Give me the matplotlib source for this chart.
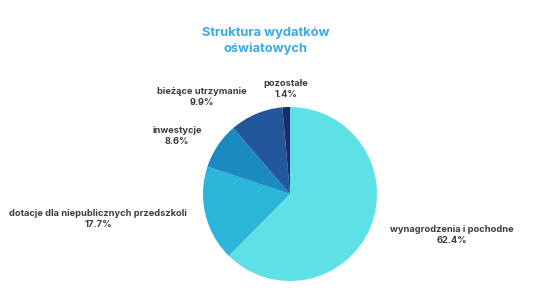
import numpy as np
import matplotlib
matplotlib.use('Agg')
import matplotlib.pyplot as plt

# Dane wykresu
categories = ['wynagrodzenia i pochodne', 'dotacje dla niepublicznych przedszkoli',
              'inwestycje', 'bieżące utrzymanie', 'pozostałe']
shares = [62.4, 17.7, 8.6, 9.9, 1.4]
colors = ['#5de0e6', '#2bb5d8', '#1b8ac0', '#23579b', '#1f2a6b']
# pozycje etykiet (px, od lewej/góry)
label_pos = [(452, 235), (98, 219), (177, 136), (202, 97), (286, 89)]

W, H = 533, 301
fig = plt.figure(figsize=(W / 100, H / 100), dpi=100)
fig.patch.set_facecolor('white')
plt.rcParams['font.family'] = ['Inter', 'DejaVu Sans']

cx, cy, r = 290, 194, 87
ax = fig.add_axes([(cx - r) / W, (H - cy - r) / H, 2 * r / W, 2 * r / H])
ax.pie(shares, colors=colors, startangle=90, counterclock=False,
       wedgeprops=dict(linewidth=0))
ax.set_xlim(-1, 1)
ax.set_ylim(-1, 1)
ax.set_aspect('equal')
ax.axis('off')

fig.text(266 / W, 1 - 41 / H, 'Struktura wydatków\noświatowych', ha='center', va='center',
         fontsize=9.3, fontweight='bold', color='#3ba9e6', linespacing=1.35)

for name, val, (x, y) in zip(categories, shares, label_pos):
    fig.text(x / W, 1 - y / H, f'{name}\n{val}%', ha='center', va='center',
             fontsize=6.7, fontweight='bold', color='#3d3d3d', linespacing=1.35)

fig.savefig('out.png', dpi=100)
